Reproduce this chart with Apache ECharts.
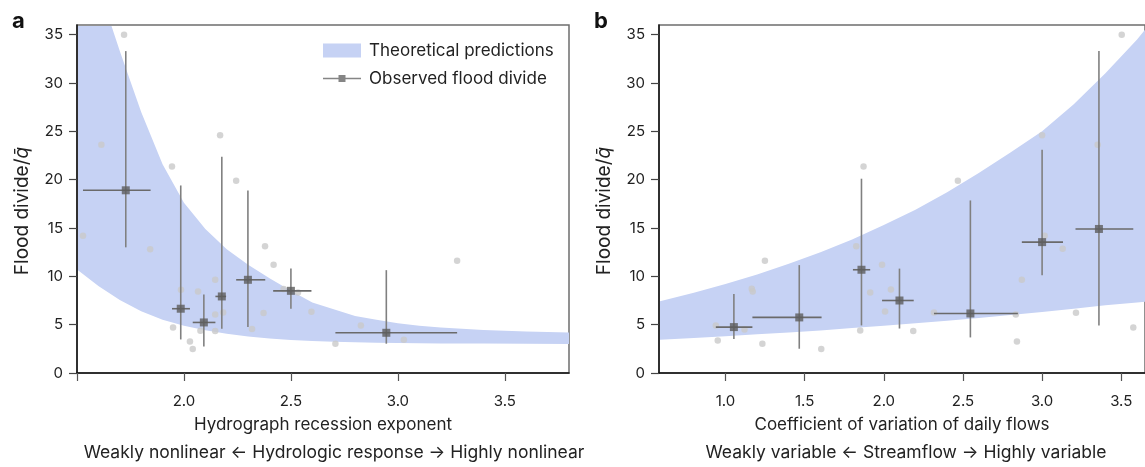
<!DOCTYPE html>
<html>
<head>
<meta charset="utf-8">
<script src="https://cdn.jsdelivr.net/npm/echarts@6/dist/echarts.min.js"></script>
<style>
html, body { margin: 0; background: #fff; }
#chart { width: 1145px; height: 467px; }
</style>
</head>
<body>
<div id="chart"></div>
<script>
// 理论预测带 (panel a), 读图估计
const bandAX  = [1.5, 1.6, 1.7, 1.8, 1.9, 2.0, 2.1, 2.2, 2.3, 2.4, 2.5, 2.6, 2.7, 2.8, 2.9, 3.0, 3.1, 3.2, 3.4, 3.6, 3.8];
const bandAHi = [48, 40, 33.3, 27.0, 21.6, 17.6, 14.9, 12.8, 11.2, 9.8, 8.5, 7.3, 6.6, 5.9, 5.5, 5.15, 4.9, 4.7, 4.45, 4.3, 4.2];
const bandALo = [10.7, 9.0, 7.55, 6.4, 5.5, 4.9, 4.42, 4.05, 3.78, 3.57, 3.42, 3.3, 3.22, 3.17, 3.13, 3.1, 3.08, 3.06, 3.04, 3.02, 3.0];

// 理论预测带 (panel b)
const bandBX  = [0.58, 0.8, 1.0, 1.2, 1.4, 1.6, 1.8, 2.0, 2.2, 2.4, 2.6, 2.8, 3.0, 3.2, 3.4, 3.6, 3.7];
const bandBHi = [7.4, 8.3, 9.2, 10.2, 11.3, 12.5, 13.8, 15.3, 16.9, 18.7, 20.7, 22.8, 25.0, 27.8, 31.0, 34.5, 36.5];
const bandBLo = [3.44, 3.62, 3.8, 4.0, 4.2, 4.4, 4.65, 4.9, 5.15, 5.4, 5.7, 6.0, 6.3, 6.65, 7.0, 7.3, 7.45];

// 灰色点 (各流域)
const catchA = [
  [1.72, 35.0], [1.614, 23.6], [1.944, 21.35], [2.169, 24.6], [2.244, 19.9],
  [1.528, 14.2], [1.842, 12.8], [1.986, 8.6], [1.949, 4.7], [2.028, 3.27],
  [2.041, 2.48], [2.066, 8.44], [2.077, 4.37], [2.146, 9.64], [2.146, 6.06],
  [2.146, 4.34], [2.183, 6.27], [2.318, 4.55], [2.379, 13.1], [2.372, 6.2],
  [2.419, 11.2], [2.466, 8.7], [2.533, 8.33], [2.596, 6.34], [2.708, 3.03],
  [2.827, 4.92], [3.028, 3.44], [3.277, 11.6]
];
const catchB = [
  [0.939, 4.92], [0.951, 3.37], [1.12, 4.5], [1.166, 8.71], [1.172, 8.44],
  [1.249, 11.6], [1.233, 3.03], [1.605, 2.48], [1.826, 13.1], [1.851, 4.4],
  [1.914, 8.33], [1.872, 21.35], [1.989, 11.2], [2.045, 8.64], [2.008, 6.37],
  [2.186, 4.34], [2.317, 6.27], [2.834, 6.06], [2.841, 3.27], [2.872, 9.64],
  [3.016, 14.2], [3.13, 12.85], [3.214, 6.23], [3.576, 4.71], [2.468, 19.9],
  [3.0, 24.6], [3.351, 23.6], [3.503, 35.0]
];

// 观测洪水分界: [x, y, xLo, xHi, yLo, yHi]
const obsA = [
  [1.728, 18.9, 1.528, 1.844, 13.0, 33.3],
  [1.985, 6.65, 1.944, 2.028, 3.47, 19.4],
  [2.093, 5.23, 2.041, 2.147, 2.75, 8.13],
  [2.177, 7.92, 2.147, 2.197, 4.58, 22.36],
  [2.299, 9.64, 2.244, 2.38, 4.75, 18.87],
  [2.50, 8.5, 2.417, 2.596, 6.65, 10.8],
  [2.946, 4.16, 2.708, 3.277, 3.03, 10.64]
];
const obsB = [
  [1.053, 4.75, 0.939, 1.17, 3.51, 8.16],
  [1.466, 5.75, 1.17, 1.607, 2.51, 11.16],
  [1.859, 10.68, 1.805, 1.914, 4.92, 20.1],
  [2.099, 7.5, 1.989, 2.189, 4.6, 10.8],
  [2.547, 6.16, 2.317, 2.847, 3.68, 17.85],
  [3.0, 13.54, 2.872, 3.132, 10.1, 23.1],
  [3.359, 14.9, 3.211, 3.576, 4.92, 33.3]
];

const yTicks = [0, 5, 10, 15, 20, 25, 30, 35];
const xTicksA = [1.5, 2.0, 2.5, 3.0, 3.5];
const xLabelsA = [2.0, 2.5, 3.0, 3.5];
const xTicksB = [1.0, 1.5, 2.0, 2.5, 3.0, 3.5];

const bandColor = '#c6d2f4';
const font = 'Inter, "Noto Sans", sans-serif';
const txt = '#222';

const chart = echarts.init(document.getElementById('chart'));

function bandSeries(idx, xs, hi, lo) {
  return {
    name: 'Theoretical predictions',
    type: 'custom',
    xAxisIndex: idx, yAxisIndex: idx,
    silent: true,
    z: 1,
    data: [[xs[0], lo[0]]],
    renderItem: (params, api) => {
      const pts = [];
      for (let i = 0; i < xs.length; i++) pts.push(api.coord([xs[i], hi[i]]));
      for (let i = xs.length - 1; i >= 0; i--) pts.push(api.coord([xs[i], lo[i]]));
      const cs = params.coordSys;
      return {
        type: 'polygon',
        shape: { points: pts },
        style: { fill: bandColor },
        clipPath: { type: 'rect', shape: { x: cs.x + 1, y: cs.y + 1, width: cs.width - 1, height: cs.height - 1 } }
      };
    }
  };
}

function errSeries(idx, rows) {
  return {
    type: 'custom',
    xAxisIndex: idx, yAxisIndex: idx,
    silent: true,
    z: 3,
    data: rows,
    encode: { x: 0, y: 1 },
    renderItem: (params, api) => {
      const x = api.value(0), y = api.value(1);
      const l = api.coord([api.value(2), y]), r = api.coord([api.value(3), y]);
      const b = api.coord([x, api.value(4)]), t = api.coord([x, api.value(5)]);
      return {
        type: 'group',
        children: [
          { type: 'line', shape: { x1: b[0], y1: b[1], x2: t[0], y2: t[1] }, style: { stroke: '#808080', lineWidth: 1.6 } },
          { type: 'line', shape: { x1: l[0], y1: l[1], x2: r[0], y2: r[1] }, style: { stroke: '#6a6a6a', lineWidth: 1.6 } }
        ]
      };
    }
  };
}

function xAxis(idx, min, max, ticks, labels, name) {
  return {
    type: 'value', gridIndex: idx, min: min, max: max,
    name: name, nameLocation: 'middle', nameGap: 43,
    nameTextStyle: { fontFamily: font, fontSize: 17, color: txt },
    axisLine: { lineStyle: { color: '#111', width: 1.5 } },
    axisTick: { length: 8, customValues: ticks, lineStyle: { color: '#555', width: 1.2 } },
    axisLabel: { customValues: labels, margin: 21, fontFamily: font, fontSize: 15, color: txt,
      formatter: v => v.toFixed(1) },
    splitLine: { show: false }
  };
}

function yAxis(idx) {
  return {
    type: 'value', gridIndex: idx, min: 0, max: 36,
    axisLine: { lineStyle: { color: '#111', width: 1.5 } },
    axisTick: { length: 8, customValues: yTicks, lineStyle: { color: '#444', width: 1.2 } },
    axisLabel: { customValues: yTicks, margin: 14, fontFamily: font, fontSize: 15, color: txt },
    splitLine: { show: false }
  };
}

function yName(x) {
  return {
    type: 'text', x: x, y: 211, rotation: Math.PI / 2,
    style: {
      text: '{n|Flood divide/}{q|q̄}', align: 'center', verticalAlign: 'middle',
      rich: {
        n: { fontFamily: font, fontSize: 19, fill: txt },
        q: { fontFamily: font, fontSize: 19, fill: txt, fontStyle: 'italic' }
      }
    }
  };
}

const obsIcon = 'path://M0,0h0.01v0.01h-0.01z M0,6.3h38v1.5h-38z M15.5,3.5h7v7h-7z M0,14h0.01v-0.01h-0.01z';

const option = {
  animation: false,
  backgroundColor: '#fff',
  grid: [
    { left: 77, top: 25, right: 576, bottom: 94, show: true, borderColor: '#6e6e6e', borderWidth: 1.5 },
    { left: 659, top: 25, right: -6, bottom: 94, show: true, borderColor: '#6e6e6e', borderWidth: 1.5 }
  ],
  xAxis: [
    xAxis(0, 1.5, 3.8, xTicksA, xLabelsA, 'Hydrograph recession exponent'),
    xAxis(1, 0.58, 3.65, xTicksB, xTicksB, 'Coefficient of variation of daily flows')
  ],
  yAxis: [yAxis(0), yAxis(1)],
  legend: {
    orient: 'vertical', left: 323, top: 42, padding: 0,
    itemWidth: 38, itemHeight: 14, itemGap: 11,
    selectedMode: false,
    textStyle: { fontFamily: font, fontSize: 17, color: txt, padding: [0, 0, 0, 3] },
    data: [
      { name: 'Theoretical predictions', icon: 'rect', itemStyle: { color: bandColor } },
      { name: 'Observed flood divide', icon: obsIcon, itemStyle: { color: '#666' } }
    ]
  },
  graphic: [
    { type: 'text', left: 12, top: 10, style: { text: 'a', fontFamily: font, fontSize: 22, fontWeight: 'bold', fill: '#111' } },
    { type: 'text', left: 594, top: 10, style: { text: 'b', fontFamily: font, fontSize: 22, fontWeight: 'bold', fill: '#111' } },
    yName(22),
    yName(604),
    { type: 'text', x: 334, y: 453, style: { text: 'Weakly nonlinear \u2190 Hydrologic response \u2192 Highly nonlinear',
      fontFamily: font, fontSize: 17.5, fill: txt, align: 'center', verticalAlign: 'middle' } },
    { type: 'text', x: 906, y: 453, style: { text: 'Weakly variable \u2190 Streamflow \u2192 Highly variable',
      fontFamily: font, fontSize: 17.5, fill: txt, align: 'center', verticalAlign: 'middle' } }
  ],
  series: [
    bandSeries(0, bandAX, bandAHi, bandALo),
    bandSeries(1, bandBX, bandBHi, bandBLo),
    { type: 'scatter', xAxisIndex: 0, yAxisIndex: 0, data: catchA, symbolSize: 6.5, silent: true, z: 2,
      itemStyle: { color: '#c9c9c9' } },
    { type: 'scatter', xAxisIndex: 1, yAxisIndex: 1, data: catchB, symbolSize: 6.5, silent: true, z: 2,
      itemStyle: { color: '#c9c9c9' } },
    errSeries(0, obsA),
    errSeries(1, obsB),
    { name: 'Observed flood divide', type: 'scatter', xAxisIndex: 0, yAxisIndex: 0, symbol: 'rect', symbolSize: 8,
      data: obsA.map(r => [r[0], r[1]]), silent: true, z: 4, itemStyle: { color: '#5c5c5c' } },
    { name: 'Observed flood divide', type: 'scatter', xAxisIndex: 1, yAxisIndex: 1, symbol: 'rect', symbolSize: 8,
      data: obsB.map(r => [r[0], r[1]]), silent: true, z: 4, itemStyle: { color: '#5c5c5c' } }
  ]
};

chart.setOption(option);
</script>
</body>
</html>
